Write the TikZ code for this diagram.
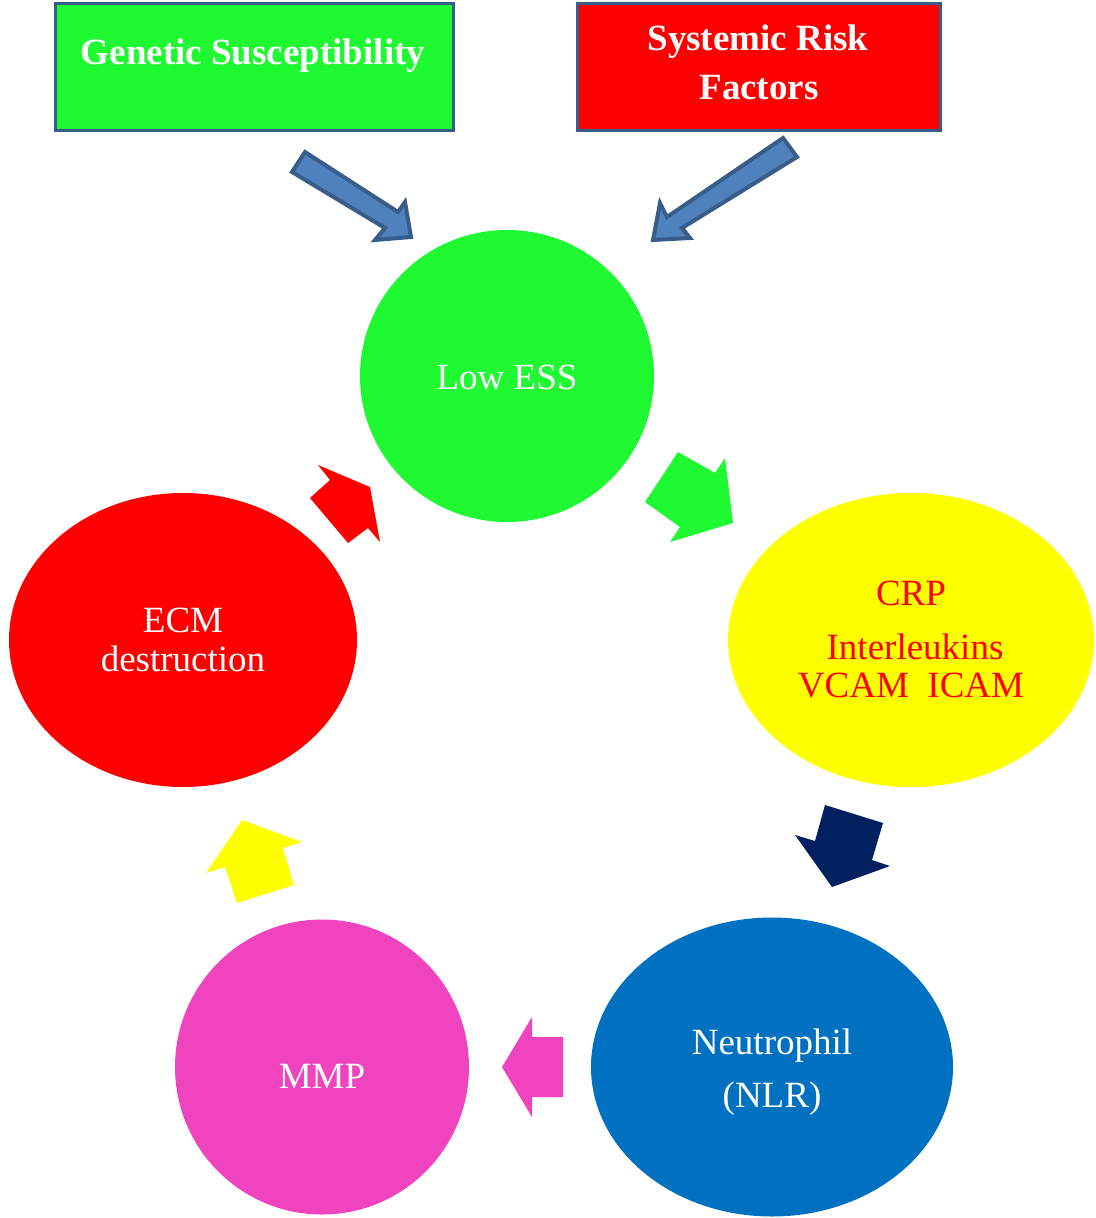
\documentclass[tikz,border=0pt]{standalone}
\usepackage{fontspec}
\setmainfont{Liberation Serif}
\usetikzlibrary{shapes.geometric}
\definecolor{bgreen}{RGB}{30,249,50}
\definecolor{bred}{RGB}{255,0,0}
\definecolor{byellow}{RGB}{255,255,0}
\definecolor{bnavy}{RGB}{0,32,96}
\definecolor{bblue}{RGB}{0,112,192}
\definecolor{bpink}{RGB}{240,67,190}
\definecolor{afill}{RGB}{79,129,189}
\definecolor{aedge}{RGB}{56,93,138}
\tikzset{
  topbox/.style={draw=aedge, line width=3pt, rectangle, inner sep=0pt},
  blob/.style={ellipse, inner sep=0pt, draw=none},
  lbl/.style={anchor=base, inner sep=0pt, font=\fontsize{37}{44}\selectfont},
  blbl/.style={lbl, font=\fontsize{37}{44}\selectfont\bfseries, text=white},
  bigarrow/.style={fill=afill, draw=aedge, line width=4pt, line join=miter},
}
\begin{document}
\begin{tikzpicture}[x=1pt,y=-1pt]
\useasboundingbox (0,0) rectangle (1095,1218);
% top boxes
\node[topbox, fill=bgreen, minimum width=398pt, minimum height=127pt] (gen) at (254,66.5) {};
\node[topbox, fill=bred, minimum width=363pt, minimum height=127pt] (sys) at (758.5,66.5) {};
\node[blbl] (gent) at (253,64) {Genetic Susceptibility};
\node[blbl] (syst1) at (758,50) {Systemic Risk};
\node[blbl] (syst2) at (759,99) {Factors};
% blobs
\node[blob, fill=bgreen, minimum width=294pt, minimum height=292pt] (ess) at (507,376) {};
\node[blob, fill=byellow, minimum width=366pt, minimum height=294pt] (crp) at (911,640) {};
\node[blob, fill=bred, minimum width=348pt, minimum height=294pt] (ecm) at (183,640) {};
\node[blob, fill=bblue, minimum width=362pt, minimum height=299pt] (neu) at (772,1067) {};
\node[blob, fill=bpink, minimum width=294pt, minimum height=295pt] (mmp) at (322,1067) {};
% labels
\node[lbl, text=white] (esst) at (507,389) {Low ESS};
\node[lbl, text=bred] (crpt1) at (911,605) {CRP};
\node[lbl, text=bred] (crpt2) at (915,659) {Interleukins};
\node[lbl, text=bred] (crpt3) at (911,697) {VCAM\ \ ICAM};
\node[lbl, text=white] (ecmt1) at (183,632) {ECM};
\node[lbl, text=white] (ecmt2) at (183,671) {destruction};
\node[lbl, text=white] (neut1) at (772,1054) {Neutrophil};
\node[lbl, text=white] (neut2) at (772,1107) {(NLR)};
\node[lbl, text=white] (mmpt) at (322,1088) {MMP};
% blue outlined arrows
\draw[bigarrow] (305,152) -- (398,212) -- (405,202) -- (411,237) -- (375,240) -- (385,228) -- (292,172) -- cycle;
\draw[bigarrow] (783,138) -- (797,157) -- (682,228) -- (690,238) -- (653,240) -- (660,203) -- (667,217) -- cycle;
% cycle arrows
\fill[bgreen] (678,452) -- (715,473) -- (725,458) -- (733,523) -- (670,542) -- (680,527) -- (645,502) -- cycle;
\fill[bnavy] (825,805) -- (883,823) -- (872,860) -- (890,866) -- (832,887) -- (795,835) -- (815,841) -- cycle;
\fill[bpink] (532,1017) -- (532,1037) -- (563,1037) -- (563,1097) -- (532,1097) -- (532,1117) -- (502,1067) -- cycle;
\fill[byellow] (242,820) -- (302,842) -- (283,848) -- (294,885) -- (237,903) -- (225,867) -- (206,873) -- cycle;
\fill[bred] (318,465) -- (370,487) -- (380,542) -- (368,528) -- (348,543) -- (310,498) -- (330,480) -- cycle;
\end{tikzpicture}
\end{document}
